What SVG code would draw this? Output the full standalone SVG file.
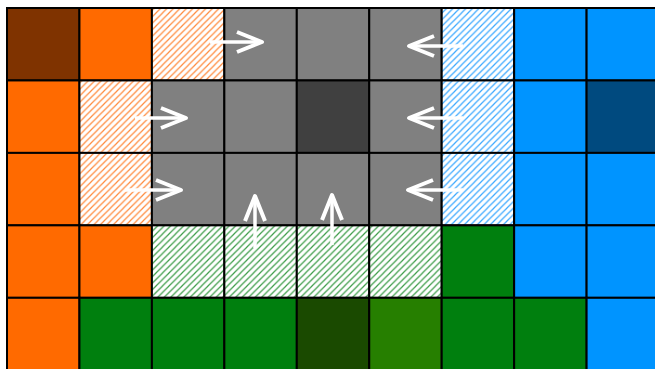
<svg xmlns="http://www.w3.org/2000/svg" width="655" height="369" viewBox="0 0 655 369">
<style>
.c{stroke:#000;stroke-width:2}
.brown{fill:#7f3300}.orange{fill:#ff6a00}.gray{fill:#808080}.dgray{fill:#404040}
.blue{fill:#0094ff}.dblue{fill:#004a7f}.green{fill:#007f0e}.dgreen{fill:#1a4a00}.mgreen{fill:#267f00}
.ho{fill:url(#hatchO)}.hb{fill:url(#hatchB)}.hg{fill:url(#hatchG)}
.arrow{stroke:#fff;stroke-width:3.5;fill:none;marker-end:url(#head)}
</style>
<defs>
<pattern id="hatchO" patternUnits="userSpaceOnUse" width="6.5" height="6.5">
<rect width="6.5" height="6.5" fill="#fff"/>
<path d="M-1,1 L1,-1 M0,6.5 L6.5,0 M5.5,7.5 L7.5,5.5" stroke="#ff8a3c" stroke-width="1.2"/>
</pattern>
<pattern id="hatchB" patternUnits="userSpaceOnUse" width="6.5" height="6.5">
<rect width="6.5" height="6.5" fill="#fff"/>
<path d="M-1,1 L1,-1 M0,6.5 L6.5,0 M5.5,7.5 L7.5,5.5" stroke="#3aa8ff" stroke-width="1.2"/>
</pattern>
<pattern id="hatchG" patternUnits="userSpaceOnUse" width="6.5" height="6.5">
<rect width="6.5" height="6.5" fill="#fff"/>
<path d="M-1,1 L1,-1 M0,6.5 L6.5,0 M5.5,7.5 L7.5,5.5" stroke="#3c9c48" stroke-width="1.2"/>
</pattern>
<marker id="head" markerUnits="userSpaceOnUse" viewBox="-30 -14 34 28" markerWidth="34" markerHeight="28" refX="0" refY="0" orient="auto">
<path d="M-25,-10 L0,0 L-25,10" fill="none" stroke="#fff" stroke-width="4" stroke-linejoin="round"/>
</marker>
</defs>
<rect width="655" height="369" fill="#fff"/>
<g id="cells">
<g id="r0c0"><rect class="c brown" x="7" y="8" width="72.45" height="72.45"/></g>
<g id="r0c1"><rect class="c orange" x="79.45" y="8" width="72.45" height="72.45"/></g>
<g id="r0c2"><rect class="c ho" x="151.9" y="8" width="72.45" height="72.45"/></g>
<g id="r0c3"><rect class="c gray" x="224.35" y="8" width="72.45" height="72.45"/></g>
<g id="r0c4"><rect class="c gray" x="296.8" y="8" width="72.45" height="72.45"/></g>
<g id="r0c5"><rect class="c gray" x="369.25" y="8" width="72.45" height="72.45"/></g>
<g id="r0c6"><rect class="c hb" x="441.7" y="8" width="72.45" height="72.45"/></g>
<g id="r0c7"><rect class="c blue" x="514.15" y="8" width="72.45" height="72.45"/></g>
<g id="r0c8"><rect class="c blue" x="586.6" y="8" width="72.45" height="72.45"/></g>

<g id="r1c0"><rect class="c orange" x="7" y="80.45" width="72.45" height="72.45"/></g>
<g id="r1c1"><rect class="c ho" x="79.45" y="80.45" width="72.45" height="72.45"/></g>
<g id="r1c2"><rect class="c gray" x="151.9" y="80.45" width="72.45" height="72.45"/></g>
<g id="r1c3"><rect class="c gray" x="224.35" y="80.45" width="72.45" height="72.45"/></g>
<g id="r1c4"><rect class="c dgray" x="296.8" y="80.45" width="72.45" height="72.45"/></g>
<g id="r1c5"><rect class="c gray" x="369.25" y="80.45" width="72.45" height="72.45"/></g>
<g id="r1c6"><rect class="c hb" x="441.7" y="80.45" width="72.45" height="72.45"/></g>
<g id="r1c7"><rect class="c blue" x="514.15" y="80.45" width="72.45" height="72.45"/></g>
<g id="r1c8"><rect class="c dblue" x="586.6" y="80.45" width="72.45" height="72.45"/></g>

<g id="r2c0"><rect class="c orange" x="7" y="152.9" width="72.45" height="72.45"/></g>
<g id="r2c1"><rect class="c ho" x="79.45" y="152.9" width="72.45" height="72.45"/></g>
<g id="r2c2"><rect class="c gray" x="151.9" y="152.9" width="72.45" height="72.45"/></g>
<g id="r2c3"><rect class="c gray" x="224.35" y="152.9" width="72.45" height="72.45"/></g>
<g id="r2c4"><rect class="c gray" x="296.8" y="152.9" width="72.45" height="72.45"/></g>
<g id="r2c5"><rect class="c gray" x="369.25" y="152.9" width="72.45" height="72.45"/></g>
<g id="r2c6"><rect class="c hb" x="441.7" y="152.9" width="72.45" height="72.45"/></g>
<g id="r2c7"><rect class="c blue" x="514.15" y="152.9" width="72.45" height="72.45"/></g>
<g id="r2c8"><rect class="c blue" x="586.6" y="152.9" width="72.45" height="72.45"/></g>

<g id="r3c0"><rect class="c orange" x="7" y="225.35" width="72.45" height="72.45"/></g>
<g id="r3c1"><rect class="c orange" x="79.45" y="225.35" width="72.45" height="72.45"/></g>
<g id="r3c2"><rect class="c hg" x="151.9" y="225.35" width="72.45" height="72.45"/></g>
<g id="r3c3"><rect class="c hg" x="224.35" y="225.35" width="72.45" height="72.45"/></g>
<g id="r3c4"><rect class="c hg" x="296.8" y="225.35" width="72.45" height="72.45"/></g>
<g id="r3c5"><rect class="c hg" x="369.25" y="225.35" width="72.45" height="72.45"/></g>
<g id="r3c6"><rect class="c green" x="441.7" y="225.35" width="72.45" height="72.45"/></g>
<g id="r3c7"><rect class="c blue" x="514.15" y="225.35" width="72.45" height="72.45"/></g>
<g id="r3c8"><rect class="c blue" x="586.6" y="225.35" width="72.45" height="72.45"/></g>

<g id="r4c0"><rect class="c orange" x="7" y="297.8" width="72.45" height="72.45"/></g>
<g id="r4c1"><rect class="c green" x="79.45" y="297.8" width="72.45" height="72.45"/></g>
<g id="r4c2"><rect class="c green" x="151.9" y="297.8" width="72.45" height="72.45"/></g>
<g id="r4c3"><rect class="c green" x="224.35" y="297.8" width="72.45" height="72.45"/></g>
<g id="r4c4"><rect class="c dgreen" x="296.8" y="297.8" width="72.45" height="72.45"/></g>
<g id="r4c5"><rect class="c mgreen" x="369.25" y="297.8" width="72.45" height="72.45"/></g>
<g id="r4c6"><rect class="c green" x="441.7" y="297.8" width="72.45" height="72.45"/></g>
<g id="r4c7"><rect class="c green" x="514.15" y="297.8" width="72.45" height="72.45"/></g>
<g id="r4c8"><rect class="c blue" x="586.6" y="297.8" width="72.45" height="72.45"/></g>
</g>
<g id="connectors">
<path class="arrow" d="M210,42 L262,42"/>
<path class="arrow" d="M463,46 L409,46"/>
<path class="arrow" d="M135,118 L186,118"/>
<path class="arrow" d="M463,118 L409,118"/>
<path class="arrow" d="M125,190 L181,190"/>
<path class="arrow" d="M463,190 L408,190"/>
<path class="arrow" d="M255,248 L255,196"/>
<path class="arrow" d="M332,245 L332,195"/>
</g>
</svg>
